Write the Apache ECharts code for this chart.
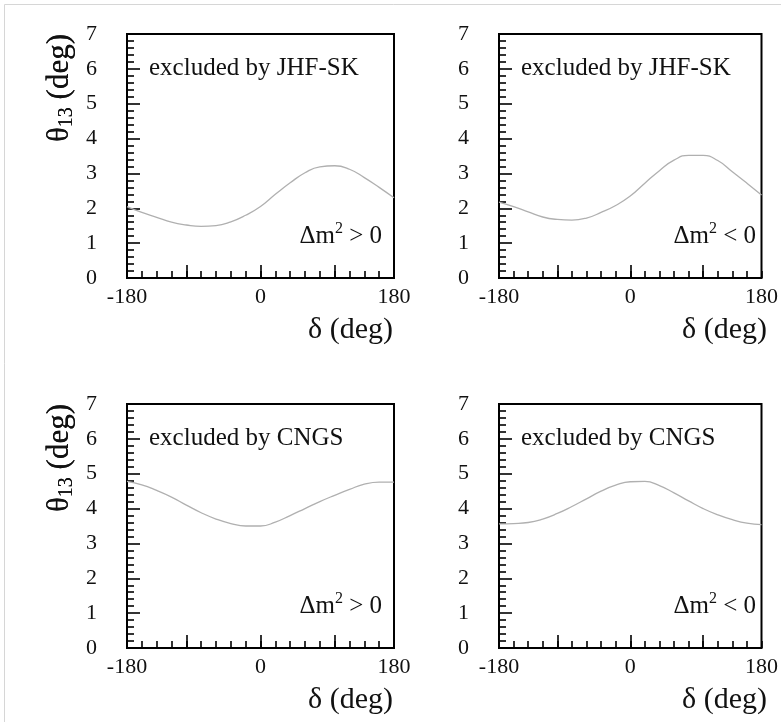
<!DOCTYPE html>
<html>
<head>
<meta charset="utf-8">
<script src="https://cdn.jsdelivr.net/npm/echarts@6/dist/echarts.min.js"></script>
<style>
  html, body { margin: 0; padding: 0; background: #fff; }
  #chart { width: 781px; height: 722px; }
</style>
</head>
<body>
<div id="chart"></div>
<script>
// ---- data ----
const delta = [-180, -160, -140, -120, -100, -80, -60, -40, -20, 0, 20, 40, 60, 80, 100, 120, 140, 160, 180];
const jhfNormal   = [2.05, 1.88, 1.74, 1.60, 1.52, 1.48, 1.50, 1.61, 1.80, 2.05, 2.40, 2.73, 3.02, 3.19, 3.22, 3.12, 2.88, 2.60, 2.30];
const jhfInverted = [2.18, 2.05, 1.90, 1.75, 1.68, 1.66, 1.72, 1.88, 2.08, 2.35, 2.72, 3.08, 3.38, 3.52, 3.52, 3.37, 3.05, 2.72, 2.38];
const cngsNormal  = [4.78, 4.68, 4.52, 4.33, 4.10, 3.88, 3.70, 3.57, 3.50, 3.50, 3.61, 3.80, 4.00, 4.20, 4.38, 4.55, 4.70, 4.76, 4.76];
const cngsInverted= [3.56, 3.57, 3.60, 3.70, 3.86, 4.06, 4.28, 4.50, 4.67, 4.77, 4.78, 4.66, 4.45, 4.22, 4.00, 3.82, 3.68, 3.58, 3.54];
const xLabelValues = [-180, 0, 180];
const xMajorTicks = [-100, 0, 100];
const xMinorStep = 20;
const yMin = 0, yMax = 7, yStep = 1;
const panelTitles = ['excluded by JHF-SK', 'excluded by JHF-SK', 'excluded by CNGS', 'excluded by CNGS'];
const panelSigns = ['>', '<', '>', '<'];
const seriesList = [jhfNormal, jhfInverted, cngsNormal, cngsInverted];

// ---- layout ----
const FONT = "'Liberation Serif', 'Times New Roman', serif";
const panels = [
  { left: 127, top: 34, width: 267, height: 244 },
  { left: 499, top: 34, width: 269, height: 244 },
  { left: 127, top: 404, width: 267, height: 244 },
  { left: 499, top: 404, width: 269, height: 244 }
];

const grid = [], xAxis = [], yAxis = [], series = [], graphic = [];

panels.forEach((p, i) => {
  grid.push({
    left: p.left, top: p.top, width: p.width, height: p.height,
    show: true, borderColor: '#000', borderWidth: 2, backgroundColor: 'transparent'
  });
  // main x axis: labels + major ticks
  xAxis.push({
    type: 'value', gridIndex: i, min: -180, max: 180, interval: 180, position: 'bottom',
    axisLine: { show: false, onZero: false },
    splitLine: { show: false },
    axisTick: { show: true, inside: true, length: 13, customValues: xMajorTicks, lineStyle: { color: '#000', width: 1.6 } },
    axisLabel: { show: true, customValues: xLabelValues, margin: 8, color: '#111', fontFamily: FONT, fontSize: 22, hideOverlap: false }
  });
  // minor x ticks
  xAxis.push({
    type: 'value', gridIndex: i, min: -180, max: 180, interval: xMinorStep, position: 'bottom',
    axisLine: { show: false, onZero: false },
    splitLine: { show: false },
    axisTick: { show: true, inside: true, length: 7, lineStyle: { color: '#000', width: 1.6 } },
    axisLabel: { show: false }
  });
  yAxis.push({
    type: 'value', gridIndex: i, min: yMin, max: yMax, interval: yStep, position: 'left',
    axisLine: { show: false, onZero: false },
    splitLine: { show: false },
    axisTick: { show: true, inside: true, length: 13, lineStyle: { color: '#000', width: 1.6 } },
    minorTick: { show: true, splitNumber: 5, length: 7, lineStyle: { color: '#000', width: 1.6 } },
    axisLabel: { margin: 30, color: '#111', fontFamily: FONT, fontSize: 22 }
  });
  series.push({
    type: 'line', xAxisIndex: 2 * i, yAxisIndex: i,
    data: delta.map((d, k) => [d, seriesList[i][k]]),
    smooth: 0.5, showSymbol: false, symbol: 'none',
    lineStyle: { color: '#b0b0b0', width: 1.3 },
    silent: true
  });

  // y-axis title
  graphic.push({
    type: 'text', x: 60, y: p.top, rotation: Math.PI / 2,
    style: {
      text: '{a|θ}{b|13}{a| (deg)}',
      align: 'right', verticalAlign: 'middle', fill: '#111',
      rich: {
        a: { fontFamily: FONT, fontSize: 31, fill: '#111', lineHeight: 34 },
        b: { fontFamily: FONT, fontSize: 20, fill: '#111', verticalAlign: 'bottom', lineHeight: 34 }
      }
    }
  });
  // x-axis title
  graphic.push({
    type: 'text', x: p.left + p.width - 1, y: p.top + p.height + 52,
    style: {
      text: 'δ (deg)', align: 'right', verticalAlign: 'middle',
      fontFamily: FONT, fontSize: 30, fill: '#111'
    }
  });
  // "excluded by ..." annotation
  graphic.push({
    type: 'text', x: p.left + 22, y: p.top + 34,
    style: {
      text: panelTitles[i], align: 'left', verticalAlign: 'middle',
      fontFamily: FONT, fontSize: 25, fill: '#111'
    }
  });
  // Δm² annotation
  graphic.push({
    type: 'text', x: p.left + p.width - 12, y: p.top + p.height - 42,
    style: {
      text: '{a|Δm}{s|2}{a| ' + panelSigns[i] + ' 0}',
      align: 'right', verticalAlign: 'middle', fill: '#111',
      rich: {
        a: { fontFamily: FONT, fontSize: 25, fill: '#111', lineHeight: 30 },
        s: { fontFamily: FONT, fontSize: 16, fill: '#111', verticalAlign: 'top', lineHeight: 30 }
      }
    }
  });
});

// faint frame of the picture
graphic.push({
  type: 'rect', shape: { x: 4.5, y: 4.5, width: 900, height: 900 },
  style: { fill: 'none', stroke: '#d6d6d6', lineWidth: 1 }, silent: true
});

const chart = echarts.init(document.getElementById('chart'), null, { renderer: 'canvas' });
chart.setOption({
  animation: false,
  backgroundColor: '#fff',
  grid, xAxis, yAxis, series, graphic
});
</script>
</body>
</html>
